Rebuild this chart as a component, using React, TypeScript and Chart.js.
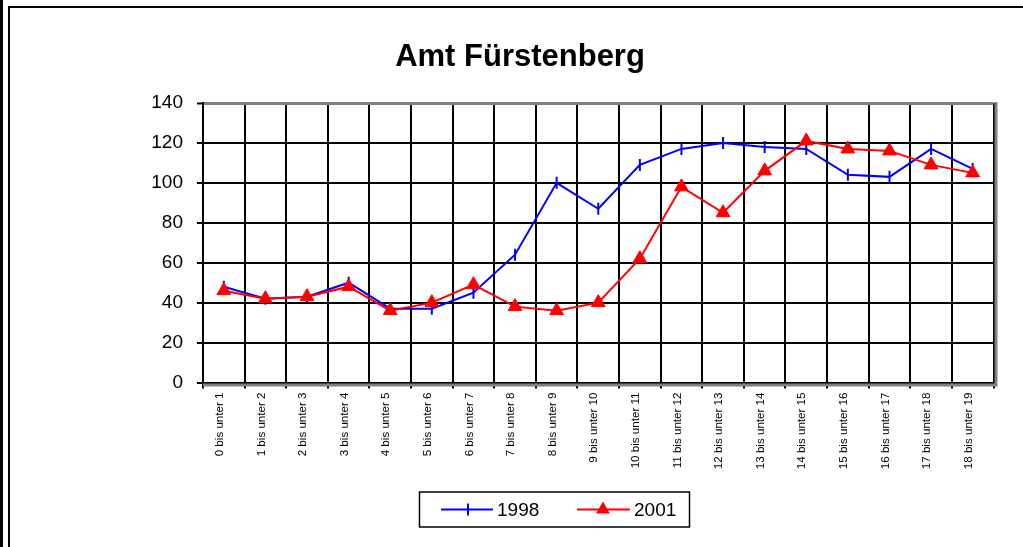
import React, { useEffect, useRef } from 'react';
import { Chart, registerables } from 'chart.js';

Chart.register(...registerables);

const categories = [
  '0 bis unter 1', '1 bis unter 2', '2 bis unter 3', '3 bis unter 4', '4 bis unter 5',
  '5 bis unter 6', '6 bis unter 7', '7 bis unter 8', '8 bis unter 9', '9 bis unter 10',
  '10 bis unter 11', '11 bis unter 12', '12 bis unter 13', '13 bis unter 14', '14 bis unter 15',
  '15 bis unter 16', '16 bis unter 17', '17 bis unter 18', '18 bis unter 19',
];
const values1998 = [48, 42, 43, 50, 37, 37, 45, 64, 100, 87, 109, 117, 120, 118, 117, 104, 103, 117, 107];
const values2001 = [46, 42, 43, 48, 36, 40, 49, 38, 36, 40, 62, 98, 85, 106, 121, 117, 116, 109, 105];
const seriesNames = ['1998', '2001'];
const titleText = 'Amt Fürstenberg';
const yMin = 0;
const yMax = 140;
const yStep = 20;

const FONT = '"Liberation Sans", Arial, Helvetica, sans-serif';
const BLUE = '#0000FF';
const RED = '#FF0000';

export default function App() {
  const ref = useRef<HTMLCanvasElement>(null);

  useEffect(() => {
    const canvas = ref.current;
    if (!canvas) return;

    const plotFrame = {
      id: 'plotFrame',
      beforeDatasetsDraw(chart: any) {
        const { left, right, top, bottom } = chart.chartArea;
        const c = chart.ctx;
        c.save();
        c.strokeStyle = '#808080';
        c.lineWidth = 3;
        c.beginPath();
        c.moveTo(right + 2.5, top - 1);
        c.lineTo(right + 2.5, bottom + 4);
        c.moveTo(left, bottom + 2.5);
        c.lineTo(right + 4, bottom + 2.5);
        c.stroke();
        c.restore();
      },
    };

    const customLegend = {
      id: 'customLegend',
      afterDraw(chart: any) {
        const c = chart.ctx;
        const bx = 419.5, by = 492, bw = 270, bh = 35;
        const cy = by + bh / 2;
        c.save();
        c.strokeStyle = '#000';
        c.lineWidth = 1.5;
        c.strokeRect(bx, by, bw, bh);
        c.font = '19px ' + FONT;
        c.textBaseline = 'middle';
        c.textAlign = 'left';
        const ds = chart.data.datasets;
        // item 1
        c.strokeStyle = BLUE;
        c.lineWidth = 2;
        c.beginPath();
        c.moveTo(441, cy);
        c.lineTo(493, cy);
        c.moveTo(468, cy - 6);
        c.lineTo(468, cy + 6);
        c.stroke();
        c.fillStyle = '#000';
        c.fillText(ds[0].label, 497, cy + 1);
        // item 2
        c.strokeStyle = RED;
        c.beginPath();
        c.moveTo(577, cy);
        c.lineTo(630, cy);
        c.stroke();
        const r = 8;
        c.fillStyle = RED;
        c.beginPath();
        c.moveTo(603, cy - r);
        c.lineTo(603 + r * Math.sin((2 * Math.PI) / 3), cy - r * Math.cos((2 * Math.PI) / 3));
        c.lineTo(603 + r * Math.sin((4 * Math.PI) / 3), cy - r * Math.cos((4 * Math.PI) / 3));
        c.closePath();
        c.fill();
        c.fillStyle = '#000';
        c.fillText(ds[1].label, 634, cy + 1);
        c.restore();
      },
    };

    const chart = new Chart(canvas, {
      type: 'line',
      data: {
        labels: categories,
        datasets: [
          {
            label: seriesNames[0],
            data: values1998,
            borderColor: BLUE,
            backgroundColor: BLUE,
            borderWidth: 2,
            pointStyle: 'line',
            pointRotation: 90,
            pointRadius: 6,
            pointBorderWidth: 2,
            pointBorderColor: BLUE,
            tension: 0,
            order: 1,
          },
          {
            label: seriesNames[1],
            data: values2001,
            borderColor: RED,
            backgroundColor: RED,
            borderWidth: 2,
            pointStyle: 'triangle',
            pointRadius: 8,
            pointBorderWidth: 1,
            pointBorderColor: RED,
            pointBackgroundColor: RED,
            tension: 0,
            order: 0,
          },
        ],
      },
      options: {
        responsive: false,
        animation: false,
        devicePixelRatio: 1,
        layout: { padding: { left: 46.5, right: 29.5, top: 0, bottom: 64.5 } },
        plugins: {
          legend: { display: false },
          tooltip: { enabled: false },
          title: {
            display: true,
            text: titleText,
            color: '#000',
            font: { family: FONT, size: 31, weight: 'bold', lineHeight: 1.2 },
            padding: { top: 38.9, bottom: 26.9 },
          },
        },
        scales: {
          x: {
            type: 'category',
            offset: true,
            afterFit(scale: any) { scale.height = 100; },
            grid: {
              display: true,
              offset: true,
              color: '#000',
              lineWidth: 2,
              drawTicks: true,
              tickLength: 6,
              tickColor: '#000',
              tickWidth: 2,
            },
            border: { display: true, color: '#000', width: 2 },
            ticks: {
              autoSkip: false,
              maxRotation: 90,
              minRotation: 90,
              padding: 4,
              labelOffset: -4,
              color: '#000',
              font: { family: FONT, size: 11.6 },
            },
          },
          y: {
            min: yMin,
            max: yMax,
            afterFit(scale: any) { scale.width = 156.5; },
            grid: {
              color: (ctx: any) => (ctx.tick && ctx.tick.value === yMax ? '#808080' : '#000'),
              lineWidth: (ctx: any) => (ctx.tick && ctx.tick.value === yMax ? 3 : 2),
              drawTicks: true,
              tickLength: 6,
              tickColor: '#000',
              tickWidth: 2,
            },
            border: { display: true, color: '#000', width: 2 },
            ticks: {
              stepSize: yStep,
              padding: 14,
              color: '#000',
              font: { family: FONT, size: 19 },
            },
          },
        },
      },
      plugins: [plotFrame, customLegend],
    } as any);

    return () => chart.destroy();
  }, []);

  return (
    <div style={{ position: 'fixed', left: 0, top: 0, width: 1023, height: 547, overflow: 'hidden', background: '#fff' }}>
      <div style={{ position: 'absolute', left: 0, top: 0, width: 3, height: 547, background: '#000' }} />
      <div style={{ position: 'absolute', left: 8, top: 6, width: 1100, height: 600, border: '2.5px solid #000' }} />
      <canvas ref={ref} width={1023} height={547} style={{ position: 'absolute', left: 0, top: 0, width: 1023, height: 547 }} />
    </div>
  );
}
